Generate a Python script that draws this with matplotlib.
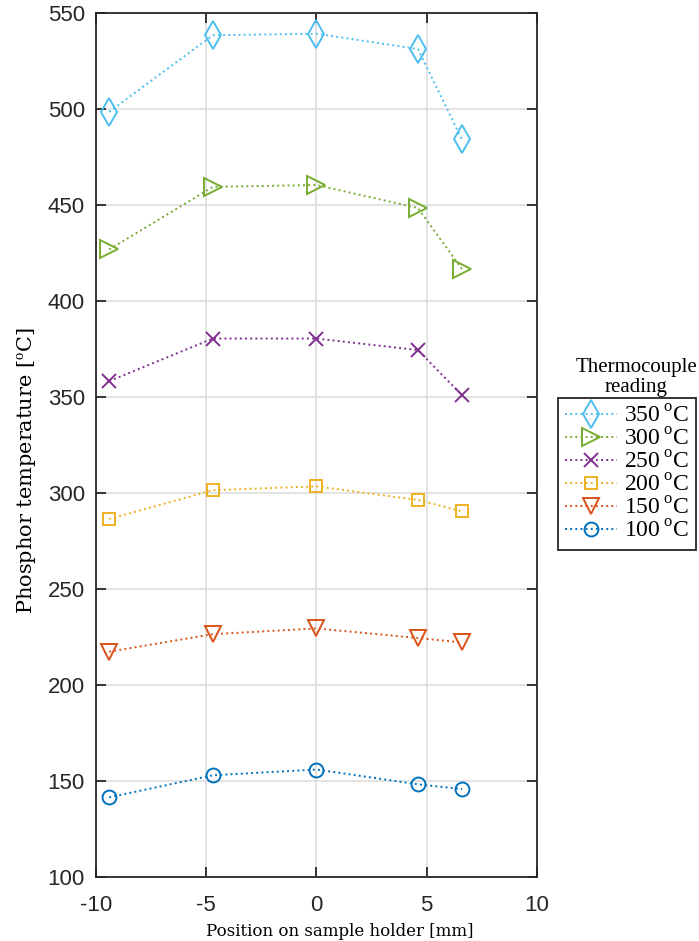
import numpy as np
import matplotlib.pyplot as plt

# polozaji mernih tacaka na drzacu uzorka [mm]
pozicija = [-9.4, -4.7, 0.0, 4.6, 6.6]

# ocitavanja termopara i izmerene temperature fosfora
termopar = ['100', '150', '200', '250', '300', '350']
t100 = [141.5, 153, 156, 148.3, 145.8]
t150 = [217.4, 226.5, 229.5, 224.5, 222.2]
t200 = [286.5, 301.5, 303.5, 296.4, 290.5]
t250 = [358.3, 380.5, 380.5, 374.5, 351]
t300 = [426.9, 459.5, 460.5, 448.5, 416.7]
t350 = [498.6, 538.5, 539.3, 531.3, 484.2]
serije = [t100, t150, t200, t250, t300, t350]

boje = ['#0072BD', '#D95319', '#EDB120', '#7E2F8E', '#77AC30', '#4DBEEE']
markeri = ['o', 'v', 's', 'x', '>', 'd']
velicine = [10, 12, 9, 10, 13, 14]

plt.rcParams['mathtext.fontset'] = 'custom'
plt.rcParams['mathtext.rm'] = 'Liberation Serif'
plt.rcParams['axes.unicode_minus'] = False
serif = 'Liberation Serif'
serif2 = 'DejaVu Serif'
sans = 'Liberation Sans'

fig = plt.figure(figsize=(6.99, 9.41), dpi=100)
ax = fig.add_axes([0.1373, 0.068, 0.6309, 0.918])

linije = []
for y, b, m, v, t in zip(serije, boje, markeri, velicine, termopar):
	l, = ax.plot(pozicija, y, linestyle=':', color=b, marker=m,
				 markersize=v, markerfacecolor='none', markeredgewidth=1.4,
				 linewidth=1.4, label=t + r'$\,^{\rm o}$C')
	linije.append(l)

ax.set_xlim(-10, 10)
ax.set_ylim(100, 550)
ax.set_xticks(np.arange(-10, 11, 5))
ax.set_yticks(np.arange(100, 551, 50))
ax.grid(True, color='#dedede', linewidth=1.2)
ax.set_axisbelow(True)
ax.tick_params(direction='in', length=7, width=1.3, top=True, right=True,
			   labelsize=16, colors='#262626')
ax.tick_params(axis='x', pad=13)
ax.tick_params(axis='y', pad=8)
for lab in ax.get_xticklabels() + ax.get_yticklabels():
	lab.set_fontfamily(sans)
for s in ax.spines.values():
	s.set_color('#262626')
	s.set_linewidth(1.3)

ax.set_xlabel('Position on sample holder [mm]', fontfamily=serif2,
			  fontsize=12, labelpad=5)
ax.set_ylabel(r'Phosphor temperature [$^{\rm o}$C]', fontfamily=serif2,
			  fontsize=15, labelpad=6)
ax.xaxis.set_label_coords(0.553, -0.053, transform=ax.transAxes)
ax.yaxis.label.set_y(0.47)

leg = fig.legend(handles=linije[::-1], loc='upper left',
				 bbox_to_anchor=(0.798, 0.577),
				 prop={'family': serif, 'size': 17},
				 handlelength=2.2, handletextpad=0.3, labelspacing=0.04,
				 borderpad=0.3, borderaxespad=0, fancybox=False, framealpha=1)
leg.get_frame().set_edgecolor('#262626')
leg.get_frame().set_linewidth(1.3)

# naslov legende iznad okvira
fig.text(0.910, 0.578, 'Thermocouple\nreading', ha='center', va='bottom',
		 fontfamily=serif, fontsize=15, linespacing=1.1)

plt.savefig('out.png', dpi=100)
